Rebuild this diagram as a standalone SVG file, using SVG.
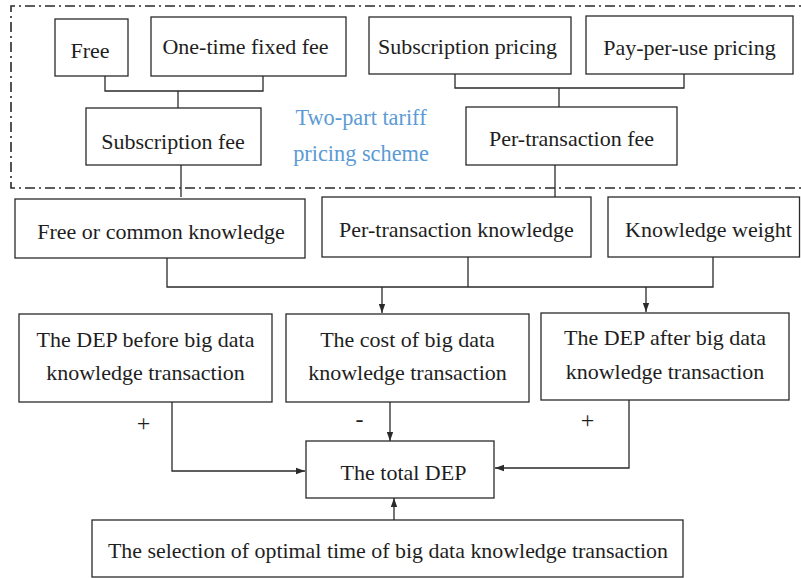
<svg xmlns="http://www.w3.org/2000/svg" width="801" height="578" viewBox="0 0 801 578">
<defs>
<style>
.box{fill:#fff;stroke:#2a2a2a;stroke-width:1.3}
.t{font-family:"Liberation Serif","Times New Roman",serif;font-size:22px;fill:#1e1e1e;text-anchor:middle}
.blue{font-family:"Liberation Serif","Times New Roman",serif;font-size:22.3px;fill:#5b9bd5;text-anchor:middle}
.sign{font-family:"Liberation Serif","Times New Roman",serif;font-size:24px;fill:#1e1e1e;text-anchor:middle}
.ln{fill:none;stroke:#2a2a2a;stroke-width:1.3}
.dash{fill:none;stroke:#2a2a2a;stroke-width:1.6;stroke-dasharray:10 4 2 4}
</style>
<marker id="arr" markerWidth="10" markerHeight="8" refX="9" refY="4" orient="auto" markerUnits="userSpaceOnUse">
<path d="M0,0.8 L9,4 L0,7.2 Z" fill="#2a2a2a"/>
</marker>
</defs>
<rect width="801" height="578" fill="#fff"/>

<path class="dash" d="M815,6 H11 V188 H815"/>
<g id="label-two-part">
<text class="blue" x="361" y="124.5">Two-part tariff</text>
<text class="blue" x="361" y="160.5">pricing scheme</text>
</g>

<g id="connectors">
<path class="ln" d="M105,76 V91 H263 V76"/>
<path class="ln" d="M178,91 V108"/>
<path class="ln" d="M455,74 V88 H684 V74"/>
<path class="ln" d="M559,88 V107"/>
<path class="ln" d="M181,165 V197"/>
<path class="ln" d="M555,165 V197"/>
<path class="ln" d="M167,258 V287 H713 V257"/>
<path class="ln" d="M468,257 V287"/>
<path class="ln" d="M382,287 V313" marker-end="url(#arr)"/>
<path class="ln" d="M646,287 V312" marker-end="url(#arr)"/>
<path class="ln" d="M172,402 V471 H305" marker-end="url(#arr)"/>
<path class="ln" d="M390,402 V441" marker-end="url(#arr)"/>
<path class="ln" d="M629,400 V468 H495" marker-end="url(#arr)"/>
<path class="ln" d="M394,520 V498" marker-end="url(#arr)"/>
<text class="sign" x="143.5" y="431">+</text>
<text class="sign" x="359.5" y="427">-</text>
<text class="sign" x="587.5" y="428">+</text>
</g>

<g id="free"><rect class="box" x="55" y="19" width="73" height="57"/><text class="t" x="90" y="57.5">Free</text></g>
<g id="one-time"><rect class="box" x="151" y="17" width="195" height="59"/><text class="t" x="245.5" y="53.5">One-time fixed fee</text></g>
<g id="sub-pricing"><rect class="box" x="369" y="17" width="202" height="57"/><text class="t" x="467.5" y="53.5">Subscription pricing</text></g>
<g id="ppu-pricing"><rect class="box" x="586" y="16" width="207" height="58"/><text class="t" x="689.5" y="55">Pay-per-use pricing</text></g>
<g id="sub-fee"><rect class="box" x="86" y="108" width="175" height="57"/><text class="t" x="173" y="148.5">Subscription fee</text></g>
<g id="pt-fee"><rect class="box" x="466" y="107" width="211" height="58"/><text class="t" x="571.5" y="146">Per-transaction fee</text></g>

<g id="free-common"><rect class="box" x="15" y="199" width="290" height="59"/><text class="t" x="161" y="238.5">Free or common knowledge</text></g>
<g id="pt-knowledge"><rect class="box" x="322" y="197" width="269" height="60"/><text class="t" x="456.5" y="237">Per-transaction knowledge</text></g>
<g id="k-weight"><rect class="box" x="608" y="197" width="191.5" height="60"/><text class="t" x="708.5" y="237">Knowledge weight</text></g>

<g id="dep-before"><rect class="box" x="19" y="314" width="253" height="88"/><text class="t" x="145.5" y="346.5">The DEP before big data</text><text class="t" x="145.5" y="380">knowledge transaction</text></g>
<g id="cost"><rect class="box" x="286" y="314" width="243" height="88"/><text class="t" x="407.5" y="346.5">The cost of big data</text><text class="t" x="407.5" y="380">knowledge transaction</text></g>
<g id="dep-after"><rect class="box" x="541" y="313" width="248" height="87"/><text class="t" x="665" y="345">The DEP after big data</text><text class="t" x="665" y="379">knowledge transaction</text></g>

<g id="total-dep"><rect class="box" x="306" y="441" width="188" height="57"/><text class="t" x="403.5" y="480">The total DEP</text></g>
<g id="selection"><rect class="box" x="92" y="520" width="591" height="57"/><text class="t" x="388" y="558" textLength="560" lengthAdjust="spacingAndGlyphs">The selection of optimal time of big data knowledge transaction</text></g>
</svg>
